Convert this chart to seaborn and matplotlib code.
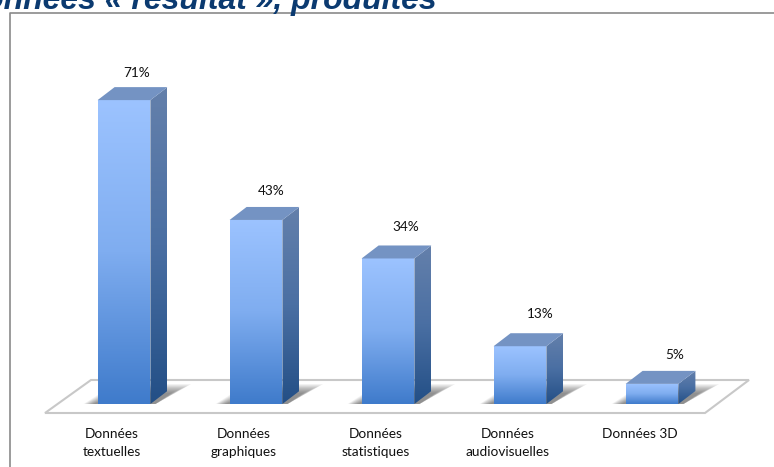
import numpy as np
import pandas as pd
import matplotlib
matplotlib.use('Agg')
import matplotlib.pyplot as plt
from matplotlib.colors import LinearSegmentedColormap
from matplotlib.patches import Polygon
import seaborn as sns

categories = ['Données\ntextuelles', 'Données\ngraphiques', 'Données\nstatistiques',
              'Données\naudiovisuelles', 'Données 3D']
values = [71, 43, 34, 13.5, 4.7]
value_labels = ['71%', '43%', '34%', '13%', '5%']
label_lift = [27, 29, 31, 32, 29]

sns.set_theme(style='white')
plt.rcParams['font.family'] = ['Lato', 'DejaVu Sans']

W, H = 774, 467
fig = plt.figure(figsize=(W / 100, H / 100), dpi=100)
ax = fig.add_axes([0, 0, 1, 1])

df = pd.DataFrame({'categorie': categories, 'valeur': values})
sns.barplot(data=df, x='categorie', y='valeur', color='#5a8fdc', width=0.4, ax=ax, zorder=3)

# one category = 132 px, one percent = 4.28 px, base of the bars at y=404 px
px_x, px_y = 132, 4.28
ax.set_xlim(-124 / px_x, (W - 124) / px_x)
ax.set_ylim((404 - H) / px_y, 404 / px_y)
ax.axis('off')
dx, dy = 17 / px_x, 13 / px_y


def px(x, y):
    return ((x - 124) / px_x, (404 - y) / px_y)


front_cmap = LinearSegmentedColormap.from_list('front', ['#9cc3ff', '#7fadf0', '#3f7bcb'])
side_cmap = LinearSegmentedColormap.from_list('side', ['#6480ab', '#4a6fa3', '#234f86'])


def gradient(poly, cmap, zorder):
    ax.add_patch(poly)
    x0, y0 = poly.get_xy().min(axis=0)
    x1, y1 = poly.get_xy().max(axis=0)
    im = ax.imshow(np.linspace(0, 1, 128).reshape(-1, 1), cmap=cmap, aspect='auto',
                   extent=(x0, x1, y0, y1), origin='upper', zorder=zorder)
    im.set_clip_path(poly)


# floor
floor = Polygon([px(45, 413), px(91, 380), px(749, 380), px(705, 413)], closed=True,
                facecolor='white', edgecolor='#c8c8c8', linewidth=1.5, zorder=1)
ax.add_patch(floor)

for i, bar in enumerate(list(ax.patches)[:len(values)]):
    x0, w, h = bar.get_x(), bar.get_width(), bar.get_height()
    x1 = x0 + w
    # soft shadow on the floor, stacked from wide and faint to narrow
    for k in range(16):
        g = k / 15
        top = (20 - 9 * g) / px_y
        shadow = Polygon([(x0 - (14 - 10 * g) / px_x, 0), (x1 + dx * 0.3, 0),
                          (x1 + dx + (24 - 20 * g) / px_x, top), (x0 + dx + 8 * g / px_x, top)],
                         closed=True, facecolor='#303030', edgecolor='none', alpha=0.045, zorder=2)
        ax.add_patch(shadow)
    bar.set_visible(False)
    gradient(Polygon([(x0, 0), (x1, 0), (x1, h), (x0, h)], closed=True, facecolor='none',
                     edgecolor='none', zorder=3), front_cmap, 3)
    gradient(Polygon([(x1, 0), (x1 + dx, dy), (x1 + dx, h + dy), (x1, h)], closed=True,
                     facecolor='none', edgecolor='none', zorder=3), side_cmap, 3)
    ax.add_patch(Polygon([(x0, h), (x1, h), (x1 + dx, h + dy), (x0 + dx, h + dy)], closed=True,
                         facecolor='#7493c3', edgecolor='none', zorder=3))
    ax.annotate(value_labels[i], xy=(i, h), xytext=(13 + 2.3 * i, label_lift[i]), textcoords='offset pixels',
                ha='center', va='center', fontsize=9.8, color='#111111', zorder=5)
    ax.annotate(categories[i], xy=(i, 0), xytext=(-12, -24), textcoords='offset pixels',
                ha='center', va='top', fontsize=9.8, color='#111111', linespacing=1.55, zorder=5)

ax.set_xlim(-124 / px_x, (W - 124) / px_x)
ax.set_ylim((404 - H) / px_y, 404 / px_y)

# chart frame, runs off the bottom and right of the picture
ax.plot(*zip(px(9.5, 470), px(9.5, 12.5), px(780, 12.5)), color='#8a8a8a',
        linewidth=1.2, zorder=6, clip_on=False)

fig.text(437 / W, 1 - 9 / H, 'Données « résultat », produites', ha='right', va='baseline',
         fontsize=23, fontweight='bold', fontstyle='italic', color='#0b3a70',
         family=['Liberation Sans', 'DejaVu Sans'])

fig.savefig('out.png', dpi=100, facecolor='white')
